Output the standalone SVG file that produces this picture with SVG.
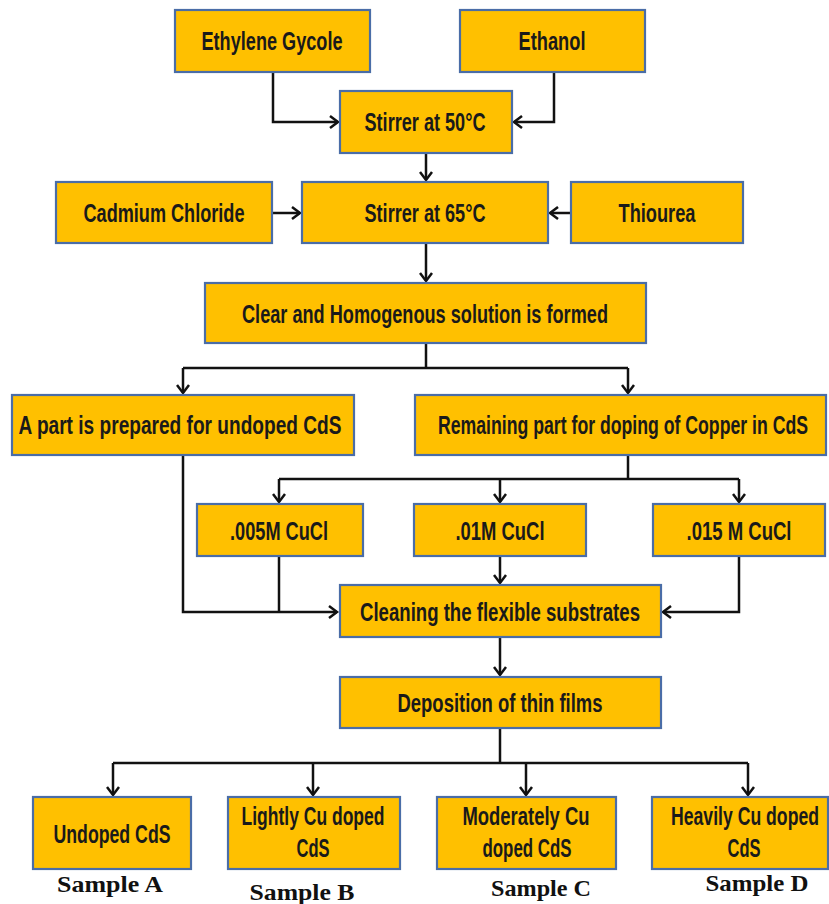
<svg xmlns="http://www.w3.org/2000/svg" width="829" height="904" viewBox="0 0 829 904">
<defs>
<style>
.box{fill:#FFC000;stroke:#4A6DA7;stroke-width:2.2}
.t{font-family:"Liberation Sans",Arial,sans-serif;font-weight:bold;font-size:25px;fill:#1a1a1a;text-anchor:middle}
.s{font-family:"Liberation Serif","Times New Roman",serif;font-weight:bold;font-size:23px;fill:#111;text-anchor:middle}
.c{fill:none;stroke:#111;stroke-width:2.5;stroke-linejoin:miter}
</style>
<marker id="ah" markerUnits="userSpaceOnUse" markerWidth="20" markerHeight="20" viewBox="-10 -10 20 20" refX="0" refY="0" orient="auto">
<path d="M-8,-6 L0,0 L-8,6" fill="none" stroke="#111" stroke-width="2.5"/>
</marker>
</defs>
<rect width="829" height="904" fill="#ffffff"/>
<g id="connectors">
<path class="c" d="M273,72 V122 H338" marker-end="url(#ah)"/>
<path class="c" d="M554,72 V122 H514" marker-end="url(#ah)"/>
<path class="c" d="M426,153 V180" marker-end="url(#ah)"/>
<path class="c" d="M272,213 H300" marker-end="url(#ah)"/>
<path class="c" d="M571,213 H550" marker-end="url(#ah)"/>
<path class="c" d="M426,243 V281" marker-end="url(#ah)"/>
<path class="c" d="M426,343 V368"/>
<path class="c" d="M183,368 H628"/>
<path class="c" d="M183,368 V393" marker-end="url(#ah)"/>
<path class="c" d="M628,368 V393" marker-end="url(#ah)"/>
<path class="c" d="M183,455 V612 H337" marker-end="url(#ah)"/>
<path class="c" d="M628,455 V479"/>
<path class="c" d="M279,479 H739"/>
<path class="c" d="M279,479 V502" marker-end="url(#ah)"/>
<path class="c" d="M500,479 V502" marker-end="url(#ah)"/>
<path class="c" d="M739,479 V502" marker-end="url(#ah)"/>
<path class="c" d="M279,556 V612"/>
<path class="c" d="M500,556 V583" marker-end="url(#ah)"/>
<path class="c" d="M739,556 V612 H663" marker-end="url(#ah)"/>
<path class="c" d="M500,637 V675" marker-end="url(#ah)"/>
<path class="c" d="M500,728 V763"/>
<path class="c" d="M113,763 H748"/>
<path class="c" d="M113,763 V795" marker-end="url(#ah)"/>
<path class="c" d="M313,763 V795" marker-end="url(#ah)"/>
<path class="c" d="M526,763 V795" marker-end="url(#ah)"/>
<path class="c" d="M748,763 V795" marker-end="url(#ah)"/>
</g>
<g id="n-ethylene"><rect class="box" x="175" y="10" width="195" height="62"/><text class="t" x="272" y="50" textLength="141" lengthAdjust="spacingAndGlyphs">Ethylene Gycole</text></g>
<g id="n-ethanol"><rect class="box" x="460" y="10" width="185" height="62"/><text class="t" x="552" y="50" textLength="67" lengthAdjust="spacingAndGlyphs">Ethanol</text></g>
<g id="n-stirrer50"><rect class="box" x="340" y="91" width="172" height="62"/><text class="t" x="425" y="131" textLength="121" lengthAdjust="spacingAndGlyphs">Stirrer at 50°C</text></g>
<g id="n-cadmium"><rect class="box" x="56" y="182" width="216" height="61"/><text class="t" x="164" y="222" textLength="161" lengthAdjust="spacingAndGlyphs">Cadmium Chloride</text></g>
<g id="n-stirrer65"><rect class="box" x="302" y="182" width="246" height="61"/><text class="t" x="425" y="222" textLength="121" lengthAdjust="spacingAndGlyphs">Stirrer at 65°C</text></g>
<g id="n-thiourea"><rect class="box" x="571" y="182" width="172" height="61"/><text class="t" x="657" y="222" textLength="77" lengthAdjust="spacingAndGlyphs">Thiourea</text></g>
<g id="n-clear"><rect class="box" x="205" y="283" width="441" height="60"/><text class="t" x="425" y="323" textLength="366" lengthAdjust="spacingAndGlyphs">Clear and Homogenous solution is formed</text></g>
<g id="n-apart"><rect class="box" x="12" y="395" width="342" height="60"/><text class="t" x="180" y="434" textLength="323" lengthAdjust="spacingAndGlyphs">A part is prepared for undoped CdS</text></g>
<g id="n-remaining"><rect class="box" x="415" y="395" width="411" height="60"/><text class="t" x="623" y="434" textLength="370" lengthAdjust="spacingAndGlyphs">Remaining part for doping of Copper in CdS</text></g>
<g id="n-cu005"><rect class="box" x="197" y="504" width="166" height="52"/><text class="t" x="279" y="540" textLength="98" lengthAdjust="spacingAndGlyphs">.005M CuCl</text></g>
<g id="n-cu01"><rect class="box" x="414" y="504" width="172" height="52"/><text class="t" x="500" y="540" textLength="89" lengthAdjust="spacingAndGlyphs">.01M CuCl</text></g>
<g id="n-cu015"><rect class="box" x="653" y="504" width="172" height="52"/><text class="t" x="739" y="540" textLength="105" lengthAdjust="spacingAndGlyphs">.015 M CuCl</text></g>
<g id="n-cleaning"><rect class="box" x="340" y="585" width="321" height="52"/><text class="t" x="500" y="621" textLength="280" lengthAdjust="spacingAndGlyphs">Cleaning the   flexible substrates</text></g>
<g id="n-deposition"><rect class="box" x="340" y="677" width="321" height="51"/><text class="t" x="500" y="712" textLength="205" lengthAdjust="spacingAndGlyphs">Deposition of thin films</text></g>
<g id="n-undoped"><rect class="box" x="33" y="797" width="158" height="72"/><text class="t" x="112" y="843" textLength="117" lengthAdjust="spacingAndGlyphs">Undoped CdS</text></g>
<g id="n-lightly"><rect class="box" x="228" y="797" width="172" height="72"/><text class="t" x="313" y="825" textLength="143" lengthAdjust="spacingAndGlyphs">Lightly Cu doped</text><text class="t" x="313" y="857" textLength="33" lengthAdjust="spacingAndGlyphs">CdS</text></g>
<g id="n-moderately"><rect class="box" x="437" y="797" width="179" height="72"/><text class="t" x="526" y="825" textLength="127" lengthAdjust="spacingAndGlyphs">Moderately Cu</text><text class="t" x="527" y="857" textLength="89" lengthAdjust="spacingAndGlyphs">doped CdS</text></g>
<g id="n-heavily"><rect class="box" x="652" y="797" width="176" height="72"/><text class="t" x="745" y="825" textLength="148" lengthAdjust="spacingAndGlyphs">Heavily Cu doped</text><text class="t" x="744" y="857" textLength="33" lengthAdjust="spacingAndGlyphs">CdS</text></g>
<g id="labels">
<text class="s" x="110" y="892" textLength="106" lengthAdjust="spacingAndGlyphs">Sample A</text>
<text class="s" x="302" y="900" textLength="105" lengthAdjust="spacingAndGlyphs">Sample B</text>
<text class="s" x="541" y="896" textLength="100" lengthAdjust="spacingAndGlyphs">Sample C</text>
<text class="s" x="757" y="891" textLength="103" lengthAdjust="spacingAndGlyphs">Sample D</text>
</g>
</svg>
